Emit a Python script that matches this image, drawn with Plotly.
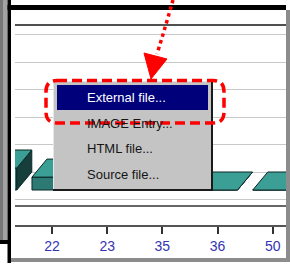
import plotly.graph_objects as go

W, H = 290, 265

# ---- data ----
categories = ["21", "22", "23", "35", "36", "50"]
positions = [-1, 0, 1, 2, 3, 4]
values = [0.8, 0.47, 1.0, 0.6, 0.0, 0.0]
grid_levels = [-1, 0, 1, 2, 3, 4, 5]
menu_items = ["External file...", "IMAGE Entry...", "HTML file...", "Source file..."]

# ---- 3D bar geometry (axis units) ----
PX_X = 271 / 4.91
PX_Y = 27.5
HW = 20 / PX_X
DX = 15 / PX_X
DY = 18 / PX_Y

front_x, front_y, top_x, top_y, side_x, side_y = [], [], [], [], [], []
for p, v in zip(positions, values):
    l, r = p - HW, p + HW
    front_x += [l, r, r, l, l, None]
    front_y += [0, 0, v, v, 0, None]
    side_x += [r, r + DX, r + DX, r, r, None]
    side_y += [0, DY, v + DY, v, 0, None]
    top_x += [l, r, r + DX, l + DX, l, None]
    top_y += [v, v, v + DY, v + DY, v, None]

fig = go.Figure()
edge = dict(color="#0b2826", width=1)
for xs, ys, col in [(front_x, front_y, "#2c7a73"), (side_x, side_y, "#163f3b"), (top_x, top_y, "#3c9f96")]:
    fig.add_trace(go.Scatter(x=xs, y=ys, mode="lines", fill="toself", fillcolor=col,
                             line=edge, hoverinfo="skip", showlegend=False))


def P(x, y):
    return f"{x / W:.5f},{1 - y / H:.5f}"


def rect(x0, y0, x1, y1, color, layer="above"):
    return dict(type="rect", xref="paper", yref="paper", x0=x0 / W, x1=x1 / W,
                y0=1 - y1 / H, y1=1 - y0 / H, fillcolor=color, line_width=0, layer=layer)


def hline(x0, x1, y, color, width, layer="above"):
    return dict(type="line", xref="paper", yref="paper", x0=x0 / W, x1=x1 / W,
                y0=1 - y / H, y1=1 - y / H, line=dict(color=color, width=width), layer=layer)


shapes = []
# chart lines
shapes.append(hline(15, 286, 25, "#505050", 2))
shapes.append(hline(15, 286, 206, "#666666", 2, layer="below"))

# frame
shapes.append(rect(0, 0, 3, 242, "#777777"))
shapes.append(rect(3, 0, 7.5, 242, "#a2a2a2"))
shapes.append(rect(0, 240, 11, 244, "#000000"))
shapes.append(rect(7.5, 0, 11, 263, "#000000"))
shapes.append(rect(7.5, 5, 286, 10, "#000000"))
shapes.append(rect(286, 10, 290, 262, "#8c8c8c"))
shapes.append(rect(11, 258, 290, 262, "#8c8c8c"))

# context menu
shapes.append(rect(53, 81, 213, 191, "#1a1a1a"))
shapes.append(rect(53, 81, 211, 189, "#c4c4c4"))
shapes.append(rect(53, 81, 211, 82, "#e6e6e6"))
shapes.append(rect(53, 81, 54, 189, "#e6e6e6"))
shapes.append(rect(57, 85, 208, 110, "#00007b"))

# red dashed rounded rectangle
x0, y0, x1, y1, r = 46, 80.5, 224, 123, 11
path = (f"M {P(x0 + r, y0)} L {P(x1 - r, y0)} Q {P(x1, y0)} {P(x1, y0 + r)} "
        f"L {P(x1, y1 - r)} Q {P(x1, y1)} {P(x1 - r, y1)} L {P(x0 + r, y1)} "
        f"Q {P(x0, y1)} {P(x0, y1 - r)} L {P(x0, y0 + r)} Q {P(x0, y0)} {P(x0 + r, y0)} Z")
shapes.append(dict(type="path", xref="paper", yref="paper", path=path, layer="above",
                   line=dict(color="#ff0000", width=3.5, dash="10px,5px")))

# red dotted arrow
shapes.append(dict(type="path", xref="paper", yref="paper", layer="above",
                   path=f"M {P(173, 0)} Q {P(166, 25)} {P(157, 54)}",
                   line=dict(color="#ff0000", width=3.5, dash="3.5px,3.5px")))
shapes.append(dict(type="path", xref="paper", yref="paper", layer="above",
                   path=f"M {P(144, 53)} L {P(167, 59)} L {P(151, 79)} Z",
                   fillcolor="#ff0000", line=dict(color="#ff0000", width=1)))

annotations = []
for i, t in enumerate(menu_items):
    annotations.append(dict(x=85 / W, y=1 - (97.5 + 25.5 * i) / H, xref="paper", yref="paper",
                            text=t, showarrow=False, xanchor="left", yanchor="middle",
                            font=dict(family="Liberation Sans, Arial", size=13,
                                      color="#ffffff" if i == 0 else "#151515")))

fig.update_layout(
    width=W, height=H, margin=dict(l=0, r=0, t=0, b=0),
    paper_bgcolor="#ffffff", plot_bgcolor="#ffffff",
    shapes=shapes, annotations=annotations, showlegend=False,
    xaxis=dict(range=[-0.67, 4.24], domain=[15 / W, 286 / W], tickvals=positions,
               ticktext=categories, ticks="outside", ticklen=7, tickwidth=1.5,
               tickcolor="#333333", showline=True, linecolor="#555555", linewidth=2,
               showgrid=False, zeroline=False, fixedrange=True,
               tickfont=dict(family="Liberation Sans, Arial", size=14, color="#3434b4")),
    yaxis=dict(range=[-35 / PX_Y, 6.0], domain=[40 / H, 240 / H],
               tickvals=[k + DY for k in grid_levels], showticklabels=False, ticks="",
               showgrid=True, gridcolor="#c8c8c8", gridwidth=1.2, zeroline=False,
               showline=False, fixedrange=True),
)

fig.write_html("out.html", config={"displayModeBar": False},
               post_script="document.body.style.margin='0';document.body.style.overflow='hidden';")
